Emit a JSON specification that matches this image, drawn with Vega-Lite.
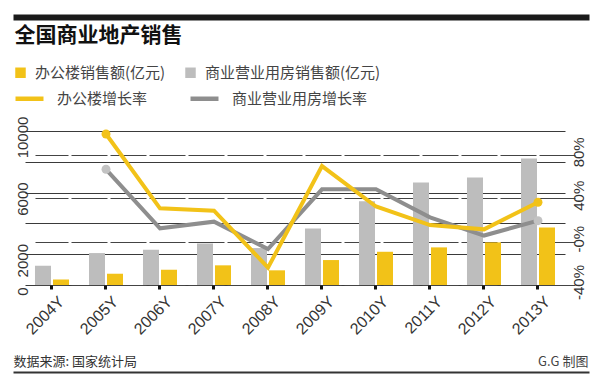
{
  "$schema": "https://vega.github.io/schema/vega-lite/v6.json",
  "autosize": {"type": "none"},
  "width": 534,
  "height": 154,
  "padding": {"left": 33, "top": 131, "right": 33, "bottom": 103},
  "background": "white",
  "config": {"view": {"stroke": null}, "font": "Noto Sans CJK SC"},
  "datasets": {
    "sales": [
      {"year": "2004Y", "series": "商业营业用房销售额(亿元)", "value": 1251},
      {"year": "2004Y", "series": "办公楼销售额(亿元)", "value": 363},
      {"year": "2005Y", "series": "商业营业用房销售额(亿元)", "value": 2074},
      {"year": "2005Y", "series": "办公楼销售额(亿元)", "value": 732},
      {"year": "2006Y", "series": "商业营业用房销售额(亿元)", "value": 2288},
      {"year": "2006Y", "series": "办公楼销售额(亿元)", "value": 991},
      {"year": "2007Y", "series": "商业营业用房销售额(亿元)", "value": 2696},
      {"year": "2007Y", "series": "办公楼销售额(亿元)", "value": 1277},
      {"year": "2008Y", "series": "商业营业用房销售额(亿元)", "value": 2398},
      {"year": "2008Y", "series": "办公楼销售额(亿元)", "value": 953},
      {"year": "2009Y", "series": "商业营业用房销售额(亿元)", "value": 3674},
      {"year": "2009Y", "series": "办公楼销售额(亿元)", "value": 1620},
      {"year": "2010Y", "series": "商业营业用房销售额(亿元)", "value": 5443},
      {"year": "2010Y", "series": "办公楼销售额(亿元)", "value": 2158},
      {"year": "2011Y", "series": "商业营业用房销售额(亿元)", "value": 6655},
      {"year": "2011Y", "series": "办公楼销售额(亿元)", "value": 2443},
      {"year": "2012Y", "series": "商业营业用房销售额(亿元)", "value": 6979},
      {"year": "2012Y", "series": "办公楼销售额(亿元)", "value": 2767},
      {"year": "2013Y", "series": "商业营业用房销售额(亿元)", "value": 8210},
      {"year": "2013Y", "series": "办公楼销售额(亿元)", "value": 3739}
    ],
    "growth": [
      {"year": "2005Y", "series": "商业营业用房增长率", "growth": 66.7},
      {"year": "2006Y", "series": "商业营业用房增长率", "growth": 12.3},
      {"year": "2007Y", "series": "商业营业用房增长率", "growth": 18.4},
      {"year": "2008Y", "series": "商业营业用房增长率", "growth": -6.8},
      {"year": "2009Y", "series": "商业营业用房增长率", "growth": 48.2},
      {"year": "2010Y", "series": "商业营业用房增长率", "growth": 48.2},
      {"year": "2011Y", "series": "商业营业用房增长率", "growth": 22.4},
      {"year": "2012Y", "series": "商业营业用房增长率", "growth": 5.6},
      {"year": "2013Y", "series": "商业营业用房增长率", "growth": 19.3},
      {"year": "2005Y", "series": "办公楼增长率", "growth": 99.2},
      {"year": "2006Y", "series": "办公楼增长率", "growth": 30.7},
      {"year": "2007Y", "series": "办公楼增长率", "growth": 28.5},
      {"year": "2008Y", "series": "办公楼增长率", "growth": -24},
      {"year": "2009Y", "series": "办公楼增长率", "growth": 69.7},
      {"year": "2010Y", "series": "办公楼增长率", "growth": 32.4},
      {"year": "2011Y", "series": "办公楼增长率", "growth": 15.3},
      {"year": "2012Y", "series": "办公楼增长率", "growth": 11.3},
      {"year": "2013Y", "series": "办公楼增长率", "growth": 36.3}
    ]
  },
  "layer": [
    {
      "data": {"name": "sales"},
      "mark": {"type": "bar"},
      "encoding": {
        "x": {
          "field": "year", "type": "nominal",
          "scale": {"domain": ["2004Y","2005Y","2006Y","2007Y","2008Y","2009Y","2010Y","2011Y","2012Y","2013Y"], "range": [-8, 532], "paddingInner": 0.37, "paddingOuter": 0.185},
          "axis": {
            "orient": "bottom", "domain": false, "grid": false,
            "ticks": true, "tickSize": 4, "tickWidth": 3, "tickColor": "#111",
            "labelAngle": -45, "labelAlign": "right", "labelBaseline": "top", "labelPadding": 4, "labelOffset": 4,
            "labelFont": "Liberation Sans Narrow, Liberation Sans, sans-serif", "labelFontSize": 16, "labelColor": "#333",
            "title": "G.G 制图", "titleX": 555, "titleY": 80, "titleAlign": "right", "titleBaseline": "alphabetic",
            "titleFont": "Noto Sans CJK SC", "titleFontSize": 13, "titleFontWeight": "normal", "titleColor": "#444"
          }
        },
        "xOffset": {
          "field": "series", "type": "nominal",
          "scale": {"domain": ["商业营业用房销售额(亿元)", "办公楼销售额(亿元)"], "paddingInner": 0.111, "paddingOuter": 0}
        },
        "y": {
          "field": "value", "type": "quantitative",
          "scale": {"domain": [0, 10000], "nice": false},
          "axis": {
            "orient": "left", "values": [0, 2000, 4000, 6000, 8000, 10000],
            "labelExpr": "datum.value == 4000 || datum.value == 8000 ? '' : datum.label",
            "format": "d",
            "domain": false, "ticks": false, "grid": true, "gridColor": "#3a3a3a", "gridWidth": 1,
            "labelAngle": -90, "labelAlign": "center", "labelBaseline": "bottom", "labelPadding": 3, "labelOffset": 6,
            "labelFont": "Liberation Sans Narrow, Liberation Sans, sans-serif", "labelFontSize": 15, "labelColor": "#333",
            "title": null
          }
        },
        "color": {
          "field": "series", "type": "nominal",
          "scale": {"domain": ["办公楼销售额(亿元)", "商业营业用房销售额(亿元)"], "range": ["#f2c218", "#bdbdbd"]},
          "legend": {
            "orient": "none", "legendX": -20, "legendY": -66, "direction": "horizontal", "columns": 2,
            "columnPadding": 17, "padding": 0, "title": null,
            "symbolType": "square", "symbolSize": 110, "symbolStrokeWidth": 0, "labelOffset": 7,
            "labelFont": "Noto Sans CJK SC", "labelFontSize": 15, "labelColor": "#444", "labelLimit": 400
          }
        }
      }
    },
    {
      "data": {"name": "growth"},
      "encoding": {
        "x": {
          "field": "year", "type": "nominal",
          "scale": {"domain": ["2004Y","2005Y","2006Y","2007Y","2008Y","2009Y","2010Y","2011Y","2012Y","2013Y"], "range": [-8, 532], "paddingInner": 0.37, "paddingOuter": 0.185},
          "axis": null
        },
        "y": {
          "field": "growth", "type": "quantitative",
          "scale": {"domain": [-40, 102], "nice": false, "zero": false},
          "axis": {
            "orient": "right", "values": [-40, 0, 40, 80],
            "labelExpr": "datum.value == 0 ? '-0%' : datum.value + '%'",
            "domain": false, "ticks": false, "grid": true, "gridColor": "#444", "gridWidth": 1.2, "gridDash": [36, 3],
            "labelAngle": -90, "labelAlign": "center", "labelBaseline": "top", "labelPadding": 4, "labelOffset": -3,
            "labelFont": "Liberation Sans Narrow, Liberation Sans, sans-serif", "labelFontSize": 15, "labelColor": "#333",
            "title": null
          }
        }
      },
      "layer": [
        {
          "mark": {"type": "line", "strokeWidth": 4},
          "encoding": {
            "stroke": {
              "field": "series", "type": "nominal",
              "scale": {"domain": ["办公楼增长率", "商业营业用房增长率"], "range": ["#f2c218", "#8e8e8e"]},
              "legend": {
                "orient": "none", "legendX": -20, "legendY": -49, "direction": "horizontal", "columns": 2,
                "columnPadding": 33, "padding": 0, "title": null,
                "symbolType": "stroke", "symbolSize": 784, "symbolStrokeWidth": 4.5, "labelOffset": 11,
                "labelFont": "Noto Sans CJK SC", "labelFontSize": 15, "labelColor": "#444", "labelLimit": 400
              }
            }
          }
        },
        {
          "transform": [{"filter": "datum.year == '2005Y' || datum.year == '2013Y'"}],
          "mark": {"type": "point", "filled": true, "opacity": 1, "size": 80},
          "encoding": {
            "fill": {
              "field": "series", "type": "nominal",
              "scale": {"domain": ["办公楼增长率", "商业营业用房增长率"], "range": ["#f2c218", "#c2c2c2"]},
              "legend": null
            }
          }
        }
      ]
    },
    {
      "data": {"name": "sales"},
      "mark": {"type": "rule", "strokeOpacity": 0},
      "encoding": {
        "x": {
          "field": "value", "type": "quantitative",
          "scale": {"domain": [0, 10000], "range": [-20, 556], "nice": false},
          "axis": {
            "orient": "top", "offset": 114, "domain": true, "domainColor": "#1a1a1a", "domainWidth": 6,
            "labels": false, "ticks": false, "grid": false,
            "title": "全国商业地产销售", "titleX": -19, "titleY": 24, "titleAlign": "left", "titleBaseline": "alphabetic",
            "titleFont": "Noto Sans CJK SC", "titleFontSize": 21, "titleFontWeight": "bold", "titleColor": "#111"
          }
        }
      }
    },
    {
      "data": {"name": "sales"},
      "mark": {"type": "rule", "strokeOpacity": 0},
      "encoding": {
        "x": {
          "field": "value", "type": "quantitative",
          "scale": {"domain": [0, 10000], "range": [-20, 556], "nice": false},
          "axis": {
            "orient": "bottom", "offset": 87, "domain": true, "domainColor": "#333", "domainWidth": 2,
            "labels": false, "ticks": false, "grid": false,
            "title": "数据来源: 国家统计局", "titleX": -20, "titleY": -7, "titleAlign": "left", "titleBaseline": "alphabetic",
            "titleFont": "Noto Sans CJK SC", "titleFontSize": 13, "titleFontWeight": "normal", "titleColor": "#333"
          }
        }
      }
    }
  ],
  "resolve": {"scale": {"x": "independent", "y": "independent"}}
}
